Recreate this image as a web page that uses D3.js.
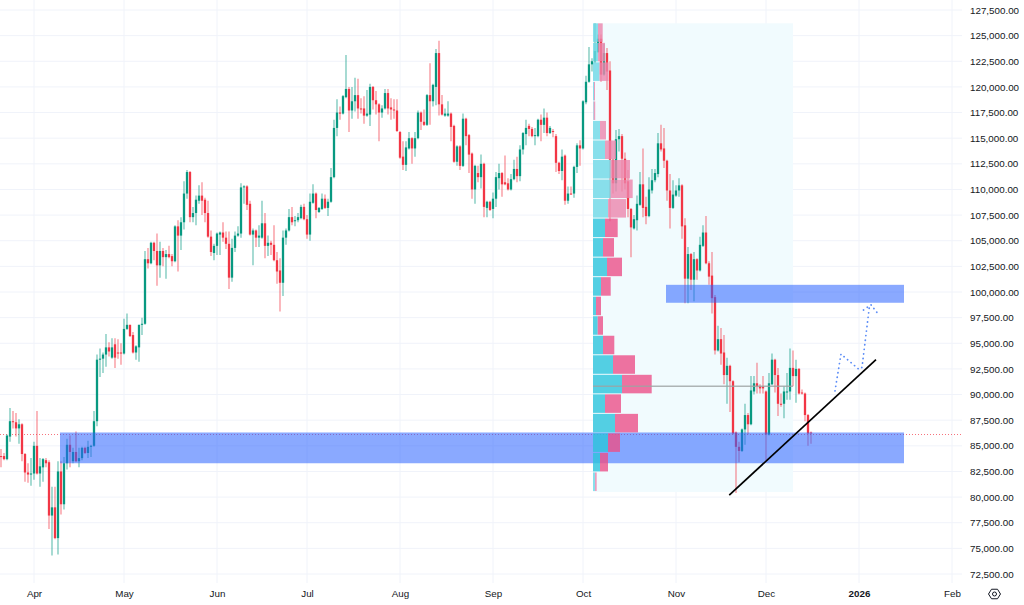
<!DOCTYPE html>
<html>
<head>
<meta charset="utf-8">
<script src="https://cdn.jsdelivr.net/npm/d3@7"></script>
<style>
  html, body { margin: 0; padding: 0; background: #fff; }
  svg { display: block; }
  text { font-family: "Liberation Sans", sans-serif; fill: #131722; }
</style>
</head>
<body>
<div id="container"></div>
<script>
// daily candles, prices in thousands of USD, first candle on firstDay
const firstDay = new Date(Date.UTC(2025, 2, 21));
const opens = [
  84.0,84.0,83.7,85.9,87.4,87.3,86.7,87.1,84.2,82.4,
  82.2,82.3,85.0,82.3,82.9,83.6,83.4,78.2,79.0,76.0,
  82.5,79.3,83.3,85.1,83.5,84.4,83.5,83.8,84.8,84.3,
  84.9,85.0,87.4,93.4,93.5,93.9,94.6,93.6,94.9,94.1,
  94.1,94.0,96.4,96.8,95.8,94.1,94.6,96.8,96.9,103.2,
  102.8,104.8,104.0,102.6,104.0,103.4,103.7,103.5,103.0,106.4,
  105.5,106.8,109.6,111.7,107.3,107.7,108.9,109.4,109.0,107.7,
  105.4,103.8,104.5,105.6,105.8,105.3,104.7,101.4,104.3,105.5,
  105.7,110.2,110.3,108.6,105.6,106.0,105.3,105.3,106.7,104.5,
  104.8,104.6,103.1,102.1,100.9,105.3,106.0,107.3,106.9,107.0,
  107.2,108.3,107.1,105.6,108.7,109.6,107.8,108.1,109.1,108.2,
  108.8,111.2,116.0,117.5,117.4,119.0,119.8,117.7,118.6,119.2,
  117.9,117.9,117.2,117.3,120.0,118.7,118.3,117.5,117.9,119.4,
  118.0,117.8,117.7,115.6,113.2,112.4,114.0,115.0,114.0,115.0,
  117.5,116.6,116.3,119.2,118.6,120.0,123.3,118.3,117.2,117.2,
  117.4,116.2,112.7,114.2,112.3,116.9,115.3,113.5,110.0,111.6,
  111.2,112.5,108.2,108.8,108.1,109.1,111.1,111.6,110.7,110.6,
  110.0,111.0,112.0,111.3,113.9,115.4,116.2,115.9,115.2,115.2,
  116.8,116.3,117.0,115.5,115.7,115.2,112.6,111.8,113.3,108.9,
  109.6,109.6,112.2,114.3,114.0,118.5,120.5,122.2,122.5,123.4,
  124.7,121.2,123.3,121.6,112.9,110.6,114.9,115.2,113.0,110.8,
  108.1,106.2,107.0,108.5,110.5,108.3,107.4,109.9,110.9,111.5,
  114.5,114.0,112.8,109.9,108.2,109.4,109.9,110.4,106.5,101.3,
  103.7,101.2,103.2,102.1,104.5,105.8,102.8,101.6,99.5,94.3,
  95.4,94.1,91.9,92.8,91.3,86.3,84.9,84.5,86.6,88.0,
  87.1,90.3,91.1,90.8,90.8,90.3,86.1,91.0,93.4,91.9,
  89.1,89.1,90.2,90.3,92.6,91.8,92.5,90.2,90.1,88.0,86.3
];
const highs = [
  84.7,84.3,86.1,88.7,88.4,88.2,87.6,87.2,84.3,83.3,
  83.8,85.4,88.4,83.8,83.8,83.8,83.6,81.0,81.0,83.5,
  83.5,83.9,85.7,86.0,84.8,86.4,84.8,84.9,84.9,85.5,
  85.1,88.4,93.9,94.5,94.1,95.9,95.1,95.5,95.5,95.4,
  95.0,97.4,97.9,96.8,96.1,94.8,96.8,97.5,104.0,104.3,
  104.9,104.9,105.7,104.9,104.3,104.1,104.5,103.7,106.5,107.0,
  107.3,110.8,111.9,111.8,108.3,109.4,110.4,110.7,109.2,108.9,
  106.0,104.7,105.8,105.9,106.8,105.9,105.9,105.2,105.9,106.4,
  110.6,110.4,110.4,108.9,106.2,106.1,106.5,108.9,107.7,105.5,
  105.0,106.5,103.9,103.3,106.0,106.2,108.1,108.3,107.4,107.7,
  108.5,108.6,107.5,109.6,110.5,109.7,108.3,109.6,109.5,109.1,
  112.1,116.8,118.8,118.1,119.2,123.1,120.0,120.0,120.9,120.8,
  118.9,119.1,119.7,120.3,120.1,119.6,118.4,118.2,119.8,119.8,
  118.9,118.8,118.8,115.7,114.7,114.7,115.6,115.1,115.6,117.7,
  117.6,117.8,119.3,122.3,120.3,123.7,124.5,119.2,117.9,118.6,
  117.5,116.3,114.3,114.3,117.4,117.0,115.4,113.6,112.4,112.3,
  113.4,112.6,108.9,108.9,109.7,111.7,112.5,111.7,113.3,111.1,
  111.5,112.9,113.2,114.3,115.6,116.8,116.4,116.1,116.0,116.9,
  117.3,117.9,117.5,116.2,115.9,115.4,112.7,113.9,113.4,110.3,
  110.3,112.3,114.5,114.8,118.7,121.1,123.9,122.8,126.2,125.1,
  125.1,124.2,123.8,122.5,113.0,115.8,115.9,115.4,113.6,111.9,
  108.2,107.5,109.4,111.7,114.0,109.3,111.2,112.0,112.0,115.5,
  116.3,116.0,112.9,111.5,110.9,110.4,111.1,110.5,107.2,104.4,
  103.8,103.9,103.3,105.4,106.5,107.4,103.0,103.9,99.7,96.7,
  96.5,95.8,93.6,92.9,91.4,86.4,85.4,86.7,89.1,88.2,
  91.8,91.8,93.1,91.0,91.8,90.4,92.1,94.0,93.5,92.6,
  90.1,90.8,92.1,94.5,94.3,93.4,92.6,90.5,90.2,88.1,86.4
];
const lows = [
  82.9,83.6,83.6,85.4,86.7,85.9,85.2,83.5,81.5,81.4,
  81.1,81.7,82.2,81.0,81.5,82.9,76.9,74.3,75.9,74.4,
  78.3,78.8,82.7,82.9,83.3,83.4,82.9,83.6,84.2,83.8,
  83.9,84.9,86.9,91.7,92.1,92.7,93.7,93.5,92.6,93.5,
  92.9,93.9,96.3,95.6,94.0,93.4,93.2,95.8,96.8,102.3,
  102.7,103.1,100.6,101.4,102.5,101.3,103.3,102.5,102.9,102.0,
  104.1,106.1,109.1,106.8,106.8,106.5,108.6,107.5,106.8,105.3,
  103.5,103.1,103.6,103.6,104.9,104.2,100.3,101.0,103.9,105.4,
  105.3,108.6,108.0,105.5,102.6,104.4,104.4,105.2,103.3,103.5,
  103.6,103.0,100.8,98.1,99.6,104.6,105.9,106.5,106.4,106.8,
  107.1,107.0,105.2,105.0,108.6,107.2,107.7,108.0,108.1,107.4,
  108.7,111.1,115.2,116.8,117.3,118.9,115.6,116.9,117.6,116.9,
  117.4,116.4,117.1,116.2,117.8,117.3,114.7,117.0,117.8,117.3,
  116.8,116.9,115.6,113.0,111.9,111.8,113.9,112.5,113.2,114.9,
  115.8,116.2,116.2,116.3,118.1,118.2,117.2,117.2,117.1,117.1,
  114.7,112.6,112.3,111.9,112.2,114.3,111.6,109.1,108.6,110.7,
  110.1,107.3,107.3,107.9,107.2,108.3,110.0,109.3,110.4,109.9,
  109.9,110.9,110.7,110.8,113.4,114.3,115.2,115.1,114.3,115.1,
  114.7,115.5,115.2,115.4,115.1,111.7,111.5,110.9,108.5,108.6,
  109.5,109.2,111.6,112.3,113.9,118.3,120.4,121.5,122.3,123.3,
  120.5,121.1,119.7,106.9,109.6,109.8,113.7,109.8,110.0,107.3,
  103.4,106.1,106.0,108.4,107.3,106.6,107.3,109.6,110.7,111.2,
  113.7,112.1,108.9,106.2,108.1,109.3,109.3,105.2,98.9,98.9,
  100.2,99.1,101.2,102.0,104.4,102.7,100.7,97.9,93.9,94.2,
  92.9,91.0,89.1,88.3,86.1,80.4,83.4,84.4,85.1,86.1,
  87.0,90.0,90.1,90.1,90.1,83.6,86.0,90.9,90.2,87.9,
  88.8,87.7,89.5,89.5,90.8,89.2,90.0,90.0,87.4,85.0,85.2
];
const closes = [
  83.9,83.7,86.0,87.4,87.3,86.7,87.1,84.2,82.4,82.2,
  82.3,85.0,82.3,83.0,83.7,83.3,78.2,79.0,76.0,82.5,
  79.3,83.3,85.1,84.4,84.4,83.5,83.8,84.8,84.3,84.9,
  85.0,87.4,93.4,93.5,93.9,94.6,94.2,94.6,93.6,94.0,
  94.0,96.4,96.8,95.7,94.1,94.7,96.8,96.9,103.2,102.8,
  104.8,104.0,102.6,104.0,103.4,103.7,103.4,103.0,106.4,105.5,
  106.8,109.6,111.7,107.3,107.7,109.0,109.4,108.9,107.7,105.4,
  103.9,104.5,105.7,105.8,105.3,104.7,101.4,104.3,105.5,105.7,
  110.2,110.3,108.5,105.6,106.0,105.3,105.5,106.7,104.5,104.8,
  104.6,103.1,102.0,100.9,105.3,106.0,107.3,106.8,107.0,107.3,
  108.3,107.1,105.6,108.8,109.6,108.0,108.2,109.1,108.2,108.8,
  111.2,116.0,117.5,117.4,119.1,119.8,117.7,118.6,119.2,117.9,
  117.8,117.2,117.4,120.0,118.7,118.3,117.5,117.9,119.4,117.9,
  117.8,117.7,115.7,113.1,112.4,114.1,115.0,114.0,115.0,117.5,
  116.6,116.3,119.2,118.6,120.2,123.3,118.3,117.3,117.4,117.4,
  116.1,112.7,114.2,112.3,116.9,115.2,113.4,110.0,112.3,111.2,
  112.5,108.3,108.8,108.0,109.1,111.2,111.6,110.5,110.5,110.0,
  111.0,112.0,111.3,113.9,115.5,116.0,115.9,115.2,115.3,116.8,
  116.3,117.0,115.5,116.0,115.6,112.6,111.8,113.2,108.9,109.6,
  109.5,112.2,114.3,114.0,118.6,120.5,122.2,122.5,123.5,124.7,
  121.2,123.3,121.5,112.9,110.6,114.9,115.2,113.0,110.6,108.1,
  106.3,107.1,108.6,110.5,108.2,107.4,110.0,110.9,111.6,114.5,
  113.9,112.8,109.9,108.2,109.5,109.9,110.4,106.4,101.3,103.7,
  101.2,103.2,102.1,104.6,105.8,102.8,101.5,99.4,94.3,95.4,
  94.0,91.9,92.8,91.3,86.2,84.9,84.5,86.6,88.0,87.1,
  90.4,91.1,90.8,90.6,90.6,86.1,91.1,93.4,91.9,89.1,
  89.0,90.3,90.3,92.6,91.8,92.5,90.1,90.1,88.0,86.2,86.2
];

// volume profile rows, top to bottom
const vpUp = [5,5,6.5,1,0.7,7,12,17.7,17.7,15,12,10,14,8,3,4.7,10,20,29,12,22,15,7,2];
const vpDown = [4.7,7,9,1,1.5,6,11,19.3,22,18,12.7,11,15,9.7,5,5.3,11.3,22,29.7,16,23,12,8,1.7];
const vpInValueArea = [0,0,0,0,0,0,0,0,0,0,1,1,1,1,1,1,1,1,1,1,1,1,1,0];
const vpTop = 126.2, vpBottom = 80.5, vpPoc = 90.8, vpMax = 59;
const vpStart = "2025-10-04T08:00Z", vpEnd = "2025-12-10T00:00Z";

const lastPrice = 86.2;
const zoneLowTop = 86.3, zoneLowBottom = 83.3, zoneLowStart = "2025-04-09T16:00Z";
const zoneHighTop = 100.7, zoneHighBottom = 98.95, zoneHighStart = "2025-10-28T16:00Z";
const zoneEnd = "2026-01-16T00:00Z";

const trendDates = ["2025-11-18T18:00Z", "2026-01-06T16:00Z"];
const trendPrices = [80.2, 93.4];
const pathDates = ["2025-12-24T00:00Z", "2025-12-26T00:00Z", "2026-01-01T00:00Z", "2026-01-02T00:00Z", "2026-01-04T12:00Z"];
const pathPrices = [90.35, 93.95, 92.45, 92.65, 98.65];
const headDates = ["2026-01-02T12:00Z", "2026-01-05T00:00Z", "2026-01-07T00:00Z"];
const headPrices = [98.25, 98.75, 98.0];

const priceTicks = d3.range(72.5, 127.6, 2.5);
const timeTicks = ["2025-04-01","2025-05-01","2025-06-01","2025-07-01","2025-08-01","2025-09-01","2025-10-01","2025-11-01","2025-12-01","2026-01-01","2026-02-01"];
const timeLabels = ["Apr","May","Jun","Jul","Aug","Sep","Oct","Nov","Dec","2026","Feb"];

const width = 1024, height = 605, plotRight = 962, plotBottom = 583;
const bodyWidth = 2.3;
const upColor = "#089981", downColor = "#f23645";

const x = d3.scaleUtc().domain([firstDay, new Date("2026-02-01T00:00Z")]).range([1, 952]);
const y = d3.scaleLinear().domain([72.5, 127.5]).range([574, 10]);
const vol = d3.scaleLinear().domain([0, vpMax]).range([0, 59]);
const date = s => new Date(s);

const svg = d3.select("#container").append("svg").attr("width", width).attr("height", height);

drawGrid();
drawBackdrop();
drawCandles();
drawZones();
drawProfile();
drawAnnotations();
drawAxes();

function drawGrid() {
  svg.append("g").selectAll("line").data(priceTicks).join("line")
    .attr("x1", 0).attr("x2", plotRight)
    .attr("y1", d => y(d)).attr("y2", d => y(d))
    .attr("stroke", "#f0f3fa");
  svg.append("g").selectAll("line").data(timeTicks).join("line")
    .attr("x1", d => x(date(d + "T00:00Z"))).attr("x2", d => x(date(d + "T00:00Z")))
    .attr("y1", 0).attr("y2", plotBottom)
    .attr("stroke", "#f0f3fa");
}

function drawBackdrop() {
  svg.append("rect")
    .attr("x", x(date(vpStart)))
    .attr("y", y(vpTop))
    .attr("width", x(date(vpEnd)) - x(date(vpStart)))
    .attr("height", y(vpBottom) - y(vpTop))
    .attr("fill", "#f1fbfe");
}

function drawCandles() {
  const g = svg.append("g");
  // dotted last price line sits under the candles
  g.append("line")
    .attr("x1", 0).attr("x2", plotRight)
    .attr("y1", Math.round(y(lastPrice)) + 0.5).attr("y2", Math.round(y(lastPrice)) + 0.5)
    .attr("stroke", downColor).attr("stroke-opacity", 0.7).attr("stroke-dasharray", "1 2");
  closes.forEach((close, i) => {
    const cx = x(d3.utcDay.offset(firstDay, i));
    const color = close >= opens[i] ? upColor : downColor;
    g.append("line")
      .attr("x1", cx).attr("x2", cx)
      .attr("y1", y(highs[i])).attr("y2", y(lows[i]))
      .attr("stroke", color).attr("stroke-width", 1.3).attr("stroke-opacity", 0.55);
    g.append("rect")
      .attr("x", cx - bodyWidth / 2)
      .attr("y", y(Math.max(opens[i], close)))
      .attr("width", bodyWidth)
      .attr("height", Math.max(1, Math.abs(y(opens[i]) - y(close))))
      .attr("fill", color);
  });
}

function drawProfile() {
  const g = svg.append("g");
  const left = x(date(vpStart));
  const rowStep = (y(vpBottom) - y(vpTop)) / vpUp.length;
  vpUp.forEach((up, i) => {
    const inside = vpInValueArea[i] === 1;
    const top = y(vpTop) + i * rowStep;
    g.append("rect")
      .attr("x", left).attr("y", top)
      .attr("width", vol(up)).attr("height", rowStep - 1)
      .attr("fill", inside ? "#2cc4dc" : "#6ed8e6").attr("fill-opacity", 0.8);
    g.append("rect")
      .attr("x", left + vol(up)).attr("y", top)
      .attr("width", vol(vpDown[i])).attr("height", rowStep - 1)
      .attr("fill", inside ? "#ec5088" : "#ec86ac").attr("fill-opacity", 0.8);
  });
  g.append("line")
    .attr("x1", left).attr("x2", x(date(vpEnd)))
    .attr("y1", y(vpPoc)).attr("y2", y(vpPoc))
    .attr("stroke", "#9ea3a3").attr("stroke-width", 1.5).attr("stroke-opacity", 0.8);
}

function drawZones() {
  const zones = [
    [zoneLowStart, zoneLowTop, zoneLowBottom],
    [zoneHighStart, zoneHighTop, zoneHighBottom]
  ];
  svg.append("g").selectAll("rect").data(zones).join("rect")
    .attr("x", d => x(date(d[0])))
    .attr("y", d => y(d[1]))
    .attr("width", d => x(date(zoneEnd)) - x(date(d[0])))
    .attr("height", d => y(d[2]) - y(d[1]))
    .attr("fill", "#2962ff").attr("fill-opacity", 0.55);
}

function drawAnnotations() {
  const line = d3.line().x(d => x(date(d[0]))).y(d => y(d[1]));
  svg.append("path")
    .attr("d", line(d3.zip(pathDates, pathPrices)))
    .attr("fill", "none").attr("stroke", "#5b8cf7").attr("stroke-width", 1.8)
    .attr("stroke-linecap", "round").attr("stroke-dasharray", "0.1 4.5");
  svg.append("path")
    .attr("d", line(d3.zip(headDates, headPrices)))
    .attr("fill", "none").attr("stroke", "#5b8cf7").attr("stroke-width", 1.8)
    .attr("stroke-linecap", "round").attr("stroke-dasharray", "0.1 4.5");
  svg.append("path")
    .attr("d", line(d3.zip(trendDates, trendPrices)))
    .attr("fill", "none").attr("stroke", "#000").attr("stroke-width", 1.7);
}

function drawAxes() {
  const yAxis = d3.axisRight(y)
    .tickValues(priceTicks)
    .tickSize(0)
    .tickPadding(0)
    .tickFormat(d => d3.format(",.2f")(d * 1000));
  const yg = svg.append("g").attr("transform", "translate(970,0)").call(yAxis);
  yg.select(".domain").remove();
  yg.selectAll("text").attr("font-size", 9.8).style("font-family", '"Liberation Sans", sans-serif');

  const xAxis = d3.axisBottom(x)
    .tickValues(timeTicks.map(d => date(d + "T00:00Z")))
    .tickSize(0)
    .tickPadding(0)
    .tickFormat((d, i) => timeLabels[i]);
  const xg = svg.append("g").attr("transform", "translate(0,590)").call(xAxis);
  xg.select(".domain").remove();
  xg.selectAll("text")
    .attr("font-size", 9.8)
    .attr("font-weight", (d, i) => timeLabels[i] === "2026" ? "bold" : "normal")
    .style("font-family", '"Liberation Sans", sans-serif');

  // settings button in the corner
  const icon = svg.append("g").attr("transform", "translate(994.5,594)")
    .attr("fill", "none").attr("stroke", "#131722").attr("stroke-width", 1);
  const hexLine = d3.line().x(d => d[0]).y(d => d[1]).curve(d3.curveLinearClosed);
  const hex = d3.range(6).map(k => [6 * Math.cos(k * Math.PI / 3), 5.5 * Math.sin(k * Math.PI / 3)]);
  icon.append("path").attr("d", hexLine(hex));
  icon.append("circle").attr("r", 2);
}
</script>
</body>
</html>
